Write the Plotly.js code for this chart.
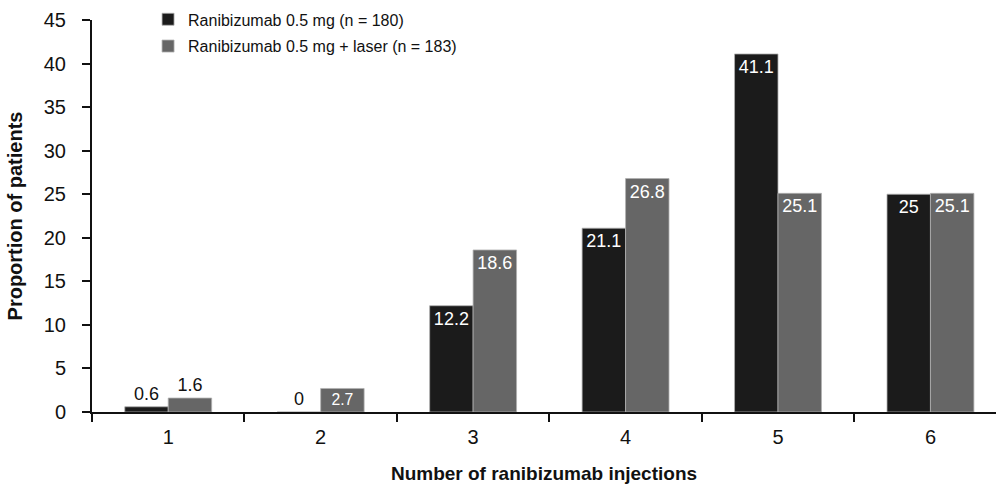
<!DOCTYPE html>
<html>
<head>
<meta charset="utf-8">
<script src="https://cdn.plot.ly/plotly-3.0.1.min.js"></script>
<style>
  html, body { margin: 0; padding: 0; background: #fff; }
  #chart { width: 996px; height: 486px; }
</style>
</head>
<body>
<div id="chart"></div>
<script>
const injections = ['1', '2', '3', '4', '5', '6'];
const ranibizumab = [0.6, 0, 12.2, 21.1, 41.1, 25];
const ranibizumabLaser = [1.6, 2.7, 18.6, 26.8, 25.1, 25.1];
const labelPosA = ['outside', 'outside', 'inside', 'inside', 'inside', 'inside'];
const labelPosB = ['outside', 'inside', 'inside', 'inside', 'inside', 'inside'];

const font = 'Liberation Sans, Arial, Helvetica, sans-serif';

var trace1 = {
  x: injections,
  y: ranibizumab,
  name: 'Ranibizumab 0.5 mg (n = 180)',
  legendgroup: 'a',
  type: 'bar',
  marker: { color: '#1b1b1b', line: { color: '#b0b0b0', width: 0.8 } },
  text: ranibizumab.map(String),
  textposition: labelPosA,
  insidetextanchor: 'end',
  insidetextfont: { color: '#ffffff', size: 18, family: font },
  outsidetextfont: { color: '#111111', size: 18, family: font },
  cliponaxis: false,
  hoverinfo: 'x+y'
};

var trace2 = {
  x: injections,
  y: ranibizumabLaser,
  name: 'Ranibizumab 0.5 mg + laser (n = 183)',
  legendgroup: 'b',
  type: 'bar',
  marker: { color: '#666666', line: { color: '#b0b0b0', width: 0.8 } },
  text: ranibizumabLaser.map(String),
  textposition: labelPosB,
  insidetextanchor: 'end',
  insidetextfont: { color: '#ffffff', size: 18, family: font },
  outsidetextfont: { color: '#111111', size: 18, family: font },
  cliponaxis: false,
  hoverinfo: 'x+y'
};

var data = [trace1, trace2];

var layout = {
  width: 996,
  height: 486,
  barmode: 'group',
  bargap: 0.43,
  bargroupgap: 0,
  paper_bgcolor: '#ffffff',
  plot_bgcolor: '#ffffff',
  font: { family: font, color: '#111111' },
  margin: { l: 92, r: 0, t: 20, b: 74 },
  showlegend: true,
  legend: {
    x: 0.062, y: 1.045, xanchor: 'left', yanchor: 'top',
    font: { size: 16, family: font },
    bgcolor: 'rgba(0,0,0,0)',
    itemwidth: 30,
    traceorder: 'grouped',
    tracegroupgap: 3
  },
  xaxis: {
    type: 'category',
    range: [-0.5, 5.43],
    showline: true, linecolor: '#111', linewidth: 2,
    ticks: 'outside', tickson: 'boundaries', ticklen: 8, tickwidth: 2, tickcolor: '#111',
    ticklabelstandoff: 6,
    showgrid: false, zeroline: false,
    tickfont: { size: 20, family: font },
    title: { text: 'Number of ranibizumab injections', font: { size: 19, family: font, weight: 'bold' }, standoff: 20 }
  },
  yaxis: {
    range: [0, 45],
    dtick: 5,
    showline: true, linecolor: '#111', linewidth: 2,
    ticks: 'outside', ticklen: 8, tickwidth: 2, tickcolor: '#111',
    ticklabelstandoff: 12,
    showgrid: false, zeroline: false,
    tickfont: { size: 20, family: font },
    title: { text: 'Proportion of patients', font: { size: 20, family: font, weight: 'bold' }, standoff: 16 }
  }
};

Plotly.newPlot('chart', data, layout, { displayModeBar: false, staticPlot: true });
</script>
</body>
</html>
